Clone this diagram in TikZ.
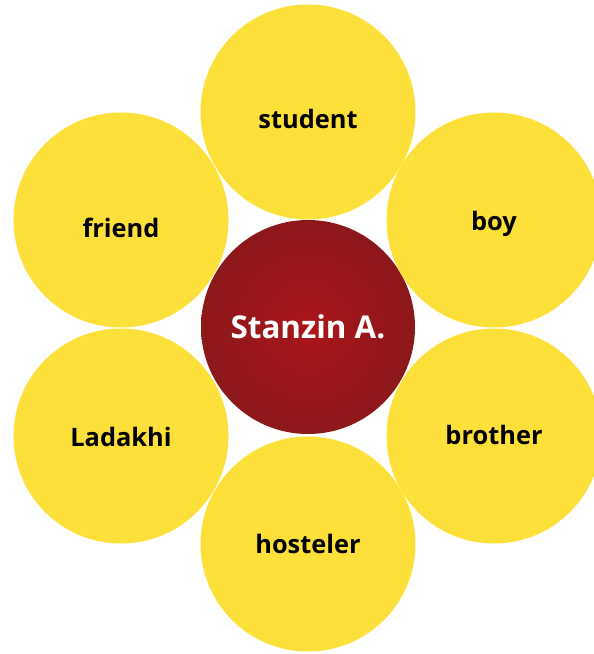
\documentclass[tikz,border=0pt]{standalone}
\usepackage{fontspec}
\setsansfont{Open Sans}
\usetikzlibrary{positioning}
\definecolor{petalyellow}{RGB}{254,224,58}
\definecolor{coreinner}{RGB}{170,22,26}
\definecolor{coreouter}{RGB}{110,26,26}
\pgfdeclareradialshading{coreball}{\pgfpoint{0bp}{0bp}}{color(0bp)=(coreinner); color(50bp)=(coreouter)}

\begin{document}
\begin{tikzpicture}[x=1bp,y=-1bp]
        \tikzset{petal/.style={circle,fill=petalyellow,minimum size=215bp,inner sep=0pt},
                 petaltext/.style={font=\sffamily\bfseries\fontsize{25.5}{30}\selectfont,text=black},
                 core/.style={circle,shading=coreball,minimum size=214bp,inner sep=0pt,
                    font=\sffamily\bfseries\fontsize{31.5}{36}\selectfont,text=white}}

        \clip (0,0) rectangle (594,654);

        \node[core] (stanzin) at (308,327) {Stanzin A.};

        % petals: name, centre, text drop
        \foreach \name/\x/\y/\dy in {student/308/112/7, boy/494/220/4, brother/494/436/-1,
                                 hosteler/308/544/0, Ladakhi/121/436/1, friend/121/220/8}
            \node[petal,label={[petaltext,yshift=-\dy bp]center:\name}] (\name) at (\x,\y) {};
    \end{tikzpicture}
\end{document}
